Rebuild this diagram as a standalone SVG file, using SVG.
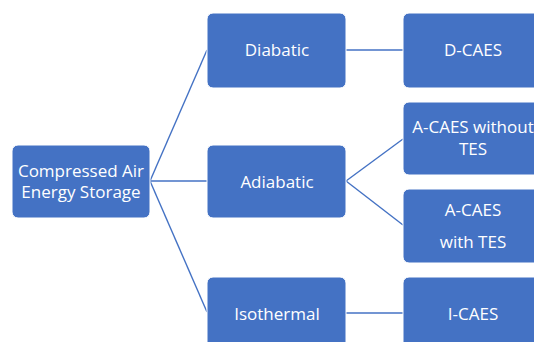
<svg xmlns="http://www.w3.org/2000/svg" width="534" height="342" viewBox="0 0 534 342">
<style>
.box{fill:#4472C4;stroke:#ffffff;stroke-width:1}
.lbl{fill:#ffffff;font-family:"Open Sans","Noto Sans",sans-serif;font-size:17px;text-anchor:middle}
.con{stroke:#4472C4;stroke-width:1.4;fill:none}
</style>
<rect width="534" height="342" fill="#ffffff"/>
<g id="connectors">
<line class="con" x1="150" y1="181" x2="207" y2="50"/>
<line class="con" x1="150" y1="181" x2="207" y2="181"/>
<line class="con" x1="150" y1="181" x2="207" y2="312"/>
<line class="con" x1="346" y1="50" x2="403" y2="50"/>
<line class="con" x1="346" y1="181" x2="403" y2="139"/>
<line class="con" x1="346" y1="181" x2="403" y2="225"/>
<line class="con" x1="346" y1="313" x2="403" y2="313"/>
</g>
<g id="root">
<rect class="box" x="12" y="145" width="138" height="73" rx="6"/>
<text class="lbl" x="81" y="177">Compressed Air</text>
<text class="lbl" x="81" y="198">Energy Storage</text>
</g>
<g id="diabatic">
<rect class="box" x="207" y="13" width="139" height="75" rx="6"/>
<text class="lbl" x="277" y="56">Diabatic</text>
</g>
<g id="adiabatic">
<rect class="box" x="207" y="145" width="139" height="73" rx="6"/>
<text class="lbl" x="277" y="188">Adiabatic</text>
</g>
<g id="isothermal">
<rect class="box" x="207" y="277" width="139" height="75" rx="6"/>
<text class="lbl" x="277" y="320">Isothermal</text>
</g>
<g id="dcaes">
<rect class="box" x="403" y="13" width="140" height="75" rx="6"/>
<text class="lbl" x="473" y="56">D-CAES</text>
</g>
<g id="acaes-without">
<rect class="box" x="403" y="102" width="140" height="73" rx="6"/>
<text class="lbl" x="473" y="133">A-CAES without</text>
<text class="lbl" x="473" y="155">TES</text>
</g>
<g id="acaes-with">
<rect class="box" x="403" y="189" width="140" height="74" rx="6"/>
<text class="lbl" x="473" y="216">A-CAES</text>
<text class="lbl" x="473" y="248">with TES</text>
</g>
<g id="icaes">
<rect class="box" x="403" y="277" width="140" height="75" rx="6"/>
<text class="lbl" x="473" y="320">I-CAES</text>
</g>
</svg>
